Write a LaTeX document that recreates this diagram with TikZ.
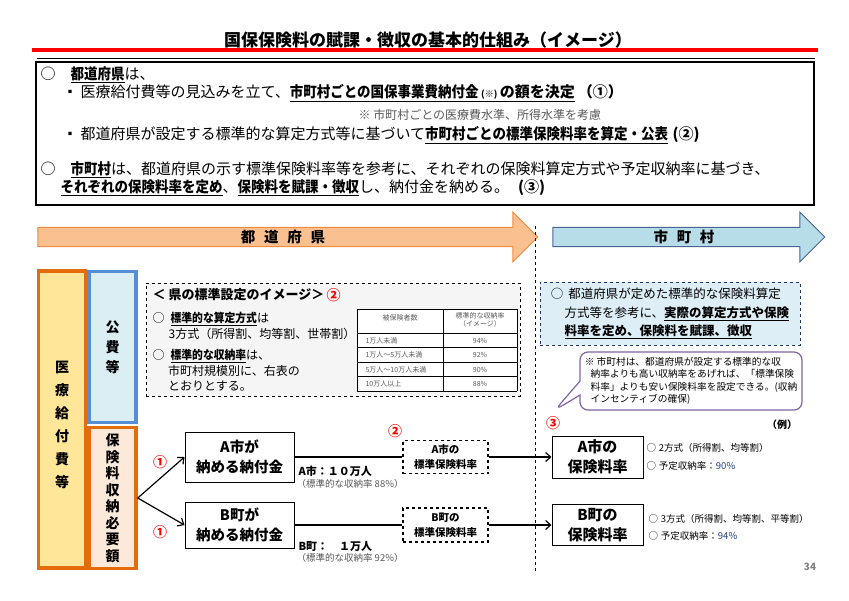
\documentclass[tikz,border=0pt]{standalone}
\usepackage{fontspec}
\setmainfont{Noto Sans CJK JP}
\usetikzlibrary{arrows.meta, positioning, shapes.arrows, shapes.callouts}

\definecolor{prefline}{HTML}{F08A3C}
\definecolor{preffill}{HTML}{FAC090}
\definecolor{cityline}{HTML}{4A6591}
\definecolor{cityfill}{HTML}{B7DEE8}
\definecolor{costline}{HTML}{E46C0A}
\definecolor{costfill}{HTML}{FFE699}
\definecolor{publine}{HTML}{558ED5}
\definecolor{pubfill}{HTML}{DBEEF4}
\definecolor{needfill}{HTML}{FDE9D9}
\definecolor{notefill}{HTML}{DEEEF6}
\definecolor{noteline}{HTML}{1F3864}
\definecolor{balloon}{HTML}{8064A2}
\definecolor{numblue}{HTML}{1F3C88}
\definecolor{softgray}{HTML}{595959}

\newcommand{\fsz}[2]{\fontsize{#1}{#2}\selectfont}
% bold, underlined key phrase (a little narrower, as in the slide)
\newcommand{\keyph}[1]{\underline{\scalebox{0.9}[1]{\bfseries #1}}}

\tikzset{
    flow/.style={x=1pt, y=-1pt, >={Straight Barb[length=5pt, width=9pt]}, line width=1.2pt},
    txt/.style={anchor=west, inner sep=0pt, font=\fsz{15}{17}},
    minor/.style={anchor=west, inner sep=0pt, font=\fsz{9.5}{12}},
    bigarrow/.style={single arrow, single arrow head extend=12pt, minimum width=50pt, inner sep=0pt, line width=1pt, font=\fsz{14.5}{16}\bfseries},
    colbox/.style={line width=3.5pt, align=center, inner sep=0pt, minimum width=47pt},
    paybox/.style={draw, line width=1pt, align=center, font=\fsz{14.5}{20}\bfseries, minimum width=109pt},
    stdbox/.style={draw, dashed, line width=1.2pt, align=center, font=\fsz{10.5}{15}\bfseries, minimum width=85pt, minimum height=33pt},
    ratebox/.style={draw, line width=1pt, align=center, font=\fsz{15}{20}\bfseries, minimum width=91pt},
    redno/.style={text=red, font=\fsz{14}{16}\bfseries, inner sep=0pt},
    tabcell/.style={inner sep=0pt, text=softgray, font=\fsz{7}{8}},
}

\begin{document}
\begin{tikzpicture}[flow]
    \useasboundingbox (0,0) rectangle (849,600);

    % heading
    \node[inner sep=0pt, font=\fsz{17}{20}\bfseries] (title) at (428,40) {国保保険料の賦課・徴収の基本的仕組み（イメージ）};
    \draw[red, line width=3.5pt] (32,50) -- (818,50);
    \draw[line width=1pt] (37,58) -- (815,58);

    % outline of the scheme
    \draw[line width=1.5pt] (36,62) rectangle (814,205);
    \node[txt] (s1) at (40,75) {○\quad\keyph{都道府県}は、};
    \node[inner sep=0pt, font=\fsz{12}{14}] (b1) at (70,93) {▪};
    \node[txt] (s2) at (80,93) {医療給付費等の見込みを立て、\underline{\scalebox{0.9}[1]{\bfseries 市町村ごとの国保事業費納付金}\,{\fsz{9}{10}\bfseries (※)}\,\textbf{の額を決定}}\hspace{0.2em}\textbf{（①）}};
    \node[anchor=west, inner sep=0pt, text=softgray, font=\fsz{12}{14}] (s3) at (358,115) {※ 市町村ごとの医療費水準、所得水準を考慮};
    \node[inner sep=0pt, font=\fsz{12}{14}] (b2) at (70,135) {▪};
    \node[txt] (s4) at (80,135) {都道府県が設定する標準的な算定方式等に基づいて\keyph{市町村ごとの標準保険料率を算定・公表}\hspace{0.3em}\textbf{(②)}};
    \node[txt] (s5) at (40,170) {○\quad\keyph{市町村}は、都道府県の示す標準保険料率等を参考に、それぞれの保険料算定方式や予定収納率に基づき、};
    \node[txt] (s6) at (60,188) {\keyph{それぞれの保険料率を定め}、\keyph{保険料を賦課・徴収}し、納付金を納める。\hspace{0.6em}\textbf{(③)}};

    % who acts
    \node[bigarrow, draw=prefline, fill=preffill, minimum height=500pt] (pref) at (283,237) {都\hspace{0.6em}道\hspace{0.6em}府\hspace{0.6em}県};
    \node[bigarrow, draw=cityline, fill=cityfill, minimum height=272pt] (city) at (684,237) {市\hspace{0.6em}町\hspace{0.6em}村};
    \draw[dashed, line width=.8pt] (535,226) -- (535,574);

    % cost columns
    \node[colbox, draw=costline, fill=costfill, minimum height=297pt] (cost) at (62,419.5) {};
    \node[align=center, inner sep=0pt, font=\fsz{14}{23}\bfseries] (costtext) at (62,425) {医\\療\\給\\付\\費\\等};
    \node[colbox, draw=publine, fill=pubfill, minimum height=151pt, font=\fsz{14}{20}\bfseries] (pub) at (112.5,347) {公\\費\\等};
    \node[colbox, draw=costline, fill=needfill, minimum height=141pt, font=\fsz{14}{16.5}\bfseries] (need) at (112.5,498) {保\\険\\料\\収\\納\\必\\要\\額};

    % prefecture standard
    \node[draw, dashed, line width=.8pt, fill=black!4, minimum width=374pt, minimum height=113pt] (image) at (333,339.5) {};
    \node[anchor=west, inner sep=0pt, font=\fsz{13}{14}\bfseries] (imgtitle) at (152,295) {＜ 県の標準設定のイメージ＞};
    \node[redno, right=1pt of imgtitle] (n2a) {②};
    \node[anchor=west, inner sep=0pt, font=\fsz{12}{14}] (m1) at (152,319) {○\hspace{0.5em}\keyph{標準的な算定方式}は};
    \node[anchor=west, inner sep=0pt, font=\fsz{12}{14}] (m1b) at (168,334) {3方式（所得割、均等割、世帯割）};
    \node[inner sep=0pt, font=\fsz{12}{15.5}, align=left, anchor=north west] (m2) at (152,349) {○\hspace{0.5em}\keyph{標準的な収納率}は、\\\hspace*{1.3em}市町村規模別に、右表の\\\hspace*{1.3em}とおりとする。};

    \fill[white] (357,309) rectangle (517,391);
    \foreach \y in {309,333,347.5,362,376.5,391}
        \draw[line width=.6pt] (357,\y) -- (517,\y);
    \foreach \x in {357,443,517}
        \draw[line width=.6pt] (\x,309) -- (\x,391);
    \node[tabcell] (hd1) at (400,318) {被保険者数};
    \node[tabcell, align=center, font=\fsz{7}{7.5}] (hd2) at (480,320) {標準的な収納率\\（イメージ）};
    \foreach \n/\r [count=\i from 0] in {1万人未満/94,1万人～5万人未満/92,5万人～10万人未満/90,10万人以上/88} {
        \node[tabcell, anchor=west] at (365,{340.5+14.5*\i}) {\n};
        \node[tabcell] at (480,{340.5+14.5*\i}) {\r\%};
    }

    % municipality side
    \node[draw=noteline, dashed, line width=.8pt, fill=notefill, minimum width=260pt, minimum height=63pt, align=left, font=\fsz{12.5}{18.5}] (actual) at (670,313.5)
        {○\hspace{0.4em}都道府県が定めた標準的な保険料算定\\\hspace*{1.1em}方式等を参考に、\underline{\textbf{実際の算定方式や保険}}\\\hspace*{1.1em}\underline{\textbf{料率を定め、保険料を賦課、徴収}}};
    \node[rectangle callout, draw=balloon, line width=1.2pt, rounded corners=8pt, fill=white,
          callout absolute pointer={(555,410)}, callout pointer width=14pt,
          minimum width=222pt, minimum height=58pt, align=left, inner sep=2pt, font=\fsz{9.7}{12.5}] (incentive) at (691,381)
        {※ 市町村は、都道府県が設定する標準的な収\\\hspace*{0.6em}納率よりも高い収納率をあげれば、「標準保険\\\hspace*{0.6em}料率」よりも安い保険料率を設定できる。(収納\\\hspace*{0.6em}インセンティブの確保)};

    % each municipality
    \node[paybox, minimum height=50pt] (paya) at (239.5,457) {A市が\\納める納付金};
    \node[paybox, minimum height=46pt] (payb) at (239.5,525) {B町が\\納める納付金};
    \node[stdbox] (stda) at (445.5,457) {A市の\\標準保険料率};
    \node[stdbox, minimum height=34pt] (stdb) at (445.5,525) {B町の\\標準保険料率};
    \node[ratebox, minimum height=42pt] (ratea) at (597.5,457) {A市の\\保険料率};
    \node[ratebox, minimum height=38pt] (rateb) at (597.5,525) {B町の\\保険料率};

    \draw[->] (need.east) -- (paya.west);
    \draw[->] (need.east) -- (payb.west);
    \draw (paya) -- (stda);
    \draw (payb) -- (stdb);
    \draw[->] (stda) -- (ratea);
    \draw[->] (stdb) -- (rateb);

    \node[redno] (n1a) at (160,462) {①};
    \node[redno] (n1b) at (160,532) {①};
    \node[redno] (n2b) at (395,431) {②};
    \node[redno] (n3) at (553,423) {③};

    \node[anchor=west, inner sep=0pt, font=\fsz{11}{13}\bfseries] (popa) at (298,471) {A市：１０万人};
    \node[minor, text=softgray] (cola) at (296,484) {（標準的な収納率 88\%）};
    \node[anchor=west, inner sep=0pt, font=\fsz{11}{13}\bfseries] (popb) at (298,546) {B町：　１万人};
    \node[minor, text=softgray] (colb) at (296,558) {（標準的な収納率 92\%）};

    \node[inner sep=0pt, font=\fsz{10}{12}\bfseries] (ex) at (782,425) {（例）};
    \node[minor] (ra1) at (646,448) {○\hspace{0.3em}2方式（所得割、均等割）};
    \node[minor] (ra2) at (646,466) {○\hspace{0.3em}予定収納率：\textcolor{numblue}{90\%}};
    \node[minor] (rb1) at (648,519) {○\hspace{0.3em}3方式（所得割、均等割、平等割）};
    \node[minor] (rb2) at (648,536) {○\hspace{0.3em}予定収納率：\textcolor{numblue}{94\%}};

    \node[inner sep=0pt, text=gray, font=\fsz{10}{12}\bfseries] (page) at (810,567) {34};
\end{tikzpicture}
\end{document}
